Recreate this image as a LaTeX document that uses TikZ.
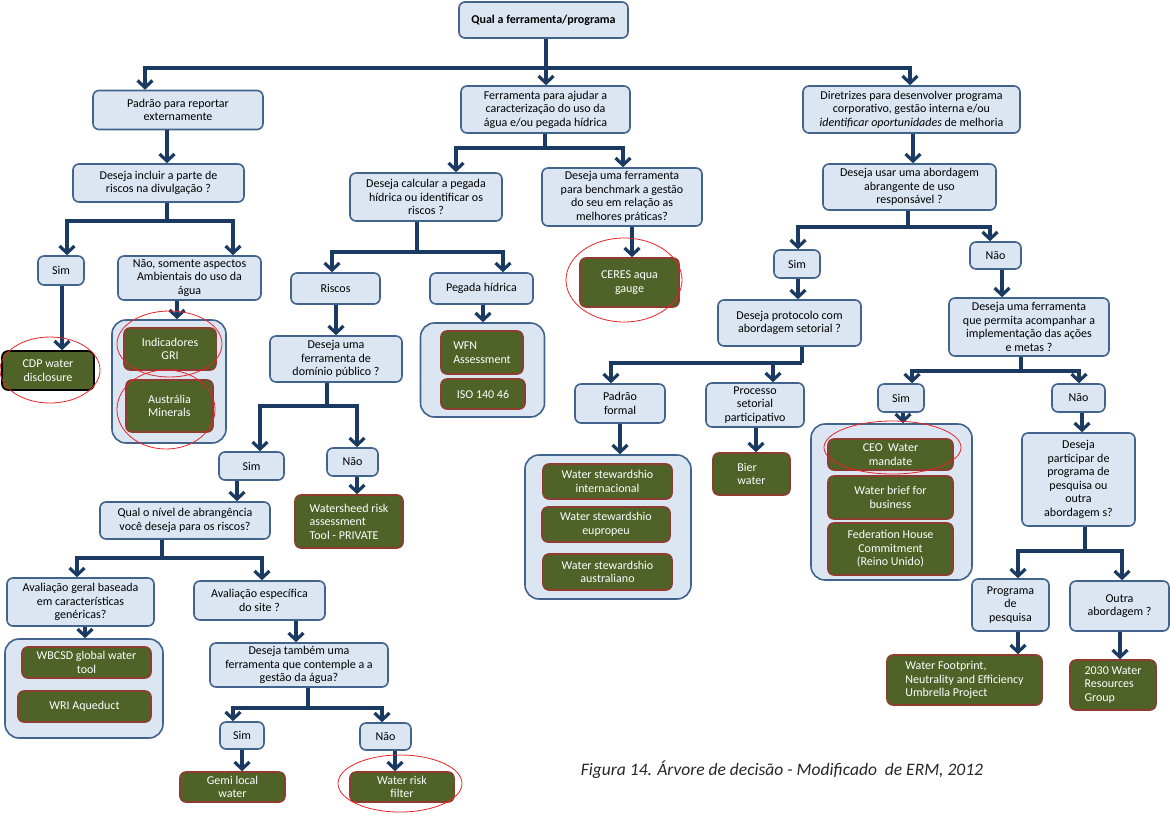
\documentclass[tikz,border=0pt]{standalone}
\usepackage{fontspec}
\setmainfont{Carlito}
\usetikzlibrary{arrows.meta,shapes.geometric}
\definecolor{lb}{HTML}{DCE6F2}
\definecolor{bd}{HTML}{41638C}
\definecolor{nv}{HTML}{1B3A62}
\definecolor{gf}{HTML}{4F6228}
\definecolor{gb}{HTML}{8E3B30}
\definecolor{rl}{HTML}{E8242A}
\begin{document}
\begin{tikzpicture}[x=1pt,y=-1pt,
 qbox/.style={draw=bd, fill=lb, line width=1.6pt, rounded corners=6pt, align=center, inner sep=1pt, font=\fontsize{12}{13.5}\selectfont, text=black},
 gbox/.style={draw=gb, fill=gf, line width=1.6pt, rounded corners=6pt, align=center, inner sep=1pt, font=\fontsize{12}{13.5}\selectfont, text=white},
 lgbox/.style={gbox, align=left},
 cbox/.style={draw=bd, fill=lb, line width=1.6pt, rounded corners=14pt, inner sep=0pt},
 trunk/.style={draw=nv, line width=3.2pt},
 arrw/.style={trunk, -{Straight Barb[length=7pt,width=15pt]}},
 redell/.style={draw=rl, line width=0.8pt, ellipse, inner sep=0pt},
]
\useasboundingbox (0,0) rectangle (1170,815);

% ---------- top level
\node[qbox, minimum width=169, minimum height=36] (top) at (543.5,20) {\bfseries Qual a ferramenta/programa};
\node[qbox, minimum width=170, minimum height=39] (pad) at (178,110) {Padrão para reportar\\externamente};
\node[qbox, minimum width=169, minimum height=47] (fer) at (545.5,109.5) {Ferramenta para ajudar a\\caracterização do uso da\\água e/ou pegada hídrica};
\node[qbox, minimum width=217, minimum height=47] (dir) at (911.5,109.5) {Diretrizes para desenvolver programa\\corporativo, gestão interna e/ou\\\textit{identificar oportunidades} de melhoria};

% ---------- left branch
\node[qbox, minimum width=171, minimum height=38] (inc) at (158.5,183) {Deseja incluir a parte de\\riscos na divulgação ?};
\node[qbox, minimum width=46, minimum height=29] (sim1) at (61,270.5) {Sim};
\node[qbox, minimum width=143, minimum height=44] (nao1) at (189.5,278) {Não, somente aspectos\\Ambientais do uso da\\água};
\node[gbox, draw=black, minimum width=92, minimum height=39] (cdp) at (48,370.5) {CDP water\\disclosure};
\node[cbox, minimum width=114, minimum height=123] (grp1) at (169,381.5) {};
\node[gbox, minimum width=92, minimum height=42] (gri) at (170,349) {Indicadores\\GRI};
\node[lgbox, minimum width=87, minimum height=52] (aus) at (169.5,406) {Austrália\\Minerals};

% ---------- middle branch
\node[qbox, minimum width=152, minimum height=48] (calc) at (426,197) {Deseja calcular a pegada\\hídrica ou identificar os\\riscos ?};
\node[qbox, minimum width=160, minimum height=58] (bench) at (622,197) {Deseja uma ferramenta\\para benchmark a gestão\\do seu em relação as\\melhores práticas?};
\node[gbox, minimum width=99, minimum height=49] (ceres) at (629.5,282.5) {CERES aqua\\gauge};
\node[qbox, minimum width=89, minimum height=31] (risc) at (335.5,288.5) {Riscos};
\node[qbox, minimum width=103, minimum height=31] (peg) at (481.5,288.5) {Pegada hídrica};
\node[qbox, minimum width=132, minimum height=46] (dom) at (336,359) {Deseja uma\\ferramenta de\\domínio público ?};
\node[cbox, minimum width=124, minimum height=94] (grp2) at (482.5,370) {};
\node[lgbox, minimum width=82, minimum height=43] (wfn) at (482,352.5) {WFN\\Assessment};
\node[gbox, minimum width=84, minimum height=30] (iso) at (483,394) {ISO 140 46};
\node[qbox, minimum width=65, minimum height=28] (simD) at (251.5,466) {Sim};
\node[qbox, minimum width=51, minimum height=28] (naoD) at (352.5,462) {Não};
\node[lgbox, minimum width=108, minimum height=53] (wsr) at (349,521.5) {Watersheed risk\\assessment\\Tool - PRIVATE};
\node[qbox, minimum width=170, minimum height=37] (niv) at (185,520.5) {Qual o nível de abrangência\\você deseja para os riscos?};
\node[qbox, minimum width=147, minimum height=48] (ger) at (80.5,602) {Avaliação geral baseada\\em características\\genéricas?};
\node[qbox, minimum width=131, minimum height=39] (esp) at (259.5,600.5) {Avaliação específica\\do site ?};
\node[cbox, minimum width=158, minimum height=99] (grp3) at (84,688.5) {};
\node[gbox, minimum width=129, minimum height=31] (wbc) at (86.5,662.5) {WBCSD global water\\tool};
\node[gbox, minimum width=133, minimum height=31] (wri) at (84.5,706.5) {WRI Aqueduct};
\node[qbox, minimum width=178, minimum height=44] (tam) at (299,665) {Deseja também uma\\ferramenta que contemple a a\\gestão da água?};
\node[qbox, minimum width=44, minimum height=27] (simE) at (242,735.5) {Sim};
\node[qbox, minimum width=51, minimum height=27] (naoE) at (385.5,736.5) {Não};
\node[gbox, minimum width=105, minimum height=30] (gem) at (232.5,787) {Gemi local\\water};
\node[gbox, minimum width=104, minimum height=30] (wrf) at (402,787) {Water risk\\filter};

% ---------- right branch
\node[qbox, minimum width=173, minimum height=46] (uso) at (909.5,187) {Deseja usar uma abordagem\\abrangente de uso\\responsável ?};
\node[qbox, minimum width=46, minimum height=28] (simR) at (797,264) {Sim};
\node[qbox, minimum width=51, minimum height=27] (naoR) at (995.5,255.5) {Não};
\node[qbox, minimum width=143, minimum height=46] (prot) at (789.5,323) {Deseja protocolo com\\abordagem setorial ?};
\node[qbox, minimum width=90, minimum height=39] (pform) at (620,403.5) {Padrão\\formal};
\node[qbox, minimum width=98, minimum height=44] (proc) at (755,405) {Processo\\setorial\\participativo};
\node[cbox, minimum width=166, minimum height=144] (grp4) at (608,527) {};
\node[gbox, minimum width=129, minimum height=35] (ws1) at (607.5,481.5) {Water stewardshio\\internacional};
\node[gbox, minimum width=128, minimum height=35] (ws2) at (606,524.5) {Water stewardshio\\eupropeu};
\node[gbox, minimum width=129, minimum height=36] (ws3) at (607.5,572) {Water stewardshio\\australiano};
\node[lgbox, minimum width=77, minimum height=42] (bier) at (751.5,474) {Bier\\water};
\node[qbox, minimum width=160, minimum height=58] (acomp) at (1029,327) {Deseja uma ferramenta\\que permita acompanhar a\\implementação das ações\\e metas ?};
\node[qbox, minimum width=46, minimum height=28] (simS) at (901,398) {Sim};
\node[qbox, minimum width=53, minimum height=28] (naoS) at (1078.5,398) {Não};
\node[cbox, minimum width=161, minimum height=156] (grp5) at (891.5,502) {};
\node[gbox, minimum width=125, minimum height=31] (ceo) at (890.5,454.5) {CEO\ \ Water\\mandate};
\node[gbox, minimum width=125, minimum height=43] (wbb) at (890.5,497.5) {Water brief for\\business};
\node[gbox, minimum width=125, minimum height=52] (fed) at (890.5,549) {Federation House\\Commitment\\(Reino Unido)};
\node[qbox, minimum width=113, minimum height=93] (part) at (1078.5,479.5) {Deseja\\participar de\\programa de\\pesquisa ou\\outra\\abordagem s?};
\node[qbox, minimum width=77, minimum height=52] (prog) at (1010.5,605) {Programa\\de\\pesquisa};
\node[qbox, minimum width=99, minimum height=50] (outra) at (1119.5,606) {Outra\\abordagem ?};
\node[lgbox, minimum width=155, minimum height=50] (wfp) at (964.5,680) {Water Footprint,\\Neutrality and Efficiency\\Umbrella Project};
\node[lgbox, minimum width=86, minimum height=50] (wrg) at (1113,685) {2030 Water\\Resources\\Group};

% ---------- connectors
\coordinate (j0) at (546,68);
\draw[trunk] (top.south -| j0) -- (j0);
\draw[arrw] (j0) -| (pad.north -| 145,0);
\draw[arrw] (j0) -- (fer.north -| j0);
\draw[arrw] (j0) -| (dir.north -| 910,0);

\draw[arrw] (pad.south -| 167,0) -- (inc.north -| 167,0);
\coordinate (j1) at (167,221);
\draw[trunk] (inc.south -| j1) -- (j1);
\draw[arrw] (j1) -| (sim1.north -| 67,0);
\draw[arrw] (j1) -| (nao1.north -| 233,0);
\draw[arrw] (sim1.south -| 62,0) -- (cdp.north -| 62,0);
\draw[arrw] (nao1.south -| 177,0) -- (grp1.north -| 177,0);

\coordinate (j2) at (545,148);
\draw[trunk] (fer.south -| j2) -- (j2);
\draw[arrw] (j2) -| (calc.north -| 456,0);
\draw[arrw] (j2) -| (bench.north -| 623,0);
\draw[arrw] (bench.south -| 632,0) -- (ceres.north -| 632,0);
\coordinate (j3) at (417,252);
\draw[trunk] (calc.south -| j3) -- (j3);
\draw[arrw] (j3) -| (risc.north -| 332,0);
\draw[arrw] (j3) -| (peg.north -| 503,0);
\draw[arrw] (risc.south -| 336,0) -- (dom.north -| 336,0);
\draw[arrw] (peg.south -| 483,0) -- (grp2.north -| 483,0);
\coordinate (j4) at (327,406);
\draw[trunk] (dom.south -| j4) -- (j4);
\draw[arrw] (j4) -| (simD.north -| 260,0);
\draw[arrw] (j4) -| (naoD.north -| 357,0);
\draw[arrw] (naoD.south -| 357,0) -- (wsr.north -| 357,0);
\draw[arrw] (simD.south -| 237,0) -- (niv.north -| 237,0);
\coordinate (j5) at (162,558);
\draw[trunk] (niv.south -| j5) -- (j5);
\draw[arrw] (j5) -| (ger.north -| 77,0);
\draw[arrw] (j5) -| (esp.north -| 262,0);
\draw[arrw] (ger.south -| 85,0) -- (grp3.north -| 85,0);
\draw[arrw] (esp.south -| 296,0) -- (tam.north -| 296,0);
\coordinate (j6) at (308,708);
\draw[trunk] (tam.south -| j6) -- (j6);
\draw[arrw] (j6) -| (simE.north -| 233,0);
\draw[arrw] (j6) -| (naoE.north -| 382,0);
\draw[arrw] (simE.south -| 242,0) -- (gem.north -| 242,0);
\draw[arrw] (naoE.south -| 395,0) -- (wrf.north -| 395,0);

\draw[arrw] (dir.south -| 913,0) -- (uso.north -| 913,0);
\coordinate (j7) at (908,227);
\draw[trunk] (uso.south -| j7) -- (j7);
\draw[arrw] (j7) -| (simR.north -| 798,0);
\draw[arrw] (j7) -| (naoR.north -| 990,0);
\draw[arrw] (simR.south -| 798,0) -- (prot.north -| 798,0);
\draw[arrw] (naoR.south -| 1002,0) -- (acomp.north -| 1002,0);
\coordinate (j8) at (802,363);
\draw[trunk] (prot.south -| j8) -- (j8);
\draw[arrw] (j8) -| (pform.north -| 611,0);
\draw[arrw] (j8) -| (proc.north -| 773,0);
\draw[arrw] (pform.south -| 620,0) -- (grp4.north -| 620,0);
\draw[arrw] (proc.south -| 756,0) -- (bier.north -| 756,0);
\coordinate (j9) at (1021,371);
\draw[trunk] (acomp.south -| j9) -- (j9);
\draw[arrw] (j9) -| (simS.north -| 912,0);
\draw[arrw] (j9) -| (naoS.north -| 1079,0);
\draw[arrw] (simS.south -| 903,0) -- (grp5.north -| 903,0);
\draw[arrw] (naoS.south -| 1082,0) -- (part.north -| 1082,0);
\coordinate (j10) at (1085,551);
\draw[trunk] (part.south -| j10) -- (j10);
\draw[arrw] (j10) -| (prog.north -| 1018,0);
\draw[arrw] (j10) -| (outra.north -| 1122,0);
\draw[arrw] (prog.south -| 1018,0) -- (wfp.north -| 1018,0);
\draw[arrw] (outra.south -| 1120,0) -- (wrg.north -| 1120,0);

% ---------- red ellipses
\node[redell, minimum width=100, minimum height=66] (e1) at (50,370) {};
\node[redell, minimum width=105, minimum height=66] (e2) at (169.5,344) {};
\node[redell, minimum width=98, minimum height=79] (e3) at (166,409.5) {};
\node[redell, minimum width=116, minimum height=84] (e4) at (624,280) {};
\node[redell, minimum width=124, minimum height=57] (e5) at (400,783.5) {};
\node[redell, minimum width=137, minimum height=53] (e6) at (892.5,447.5) {};

% ---------- caption
\node[font=\fontsize{17.5}{20}\selectfont\itshape, text=black!85] (cap) at (782,770) {Figura 14. Árvore de decisão - Modificado\ \ de ERM, 2012};
\end{tikzpicture}
\end{document}
